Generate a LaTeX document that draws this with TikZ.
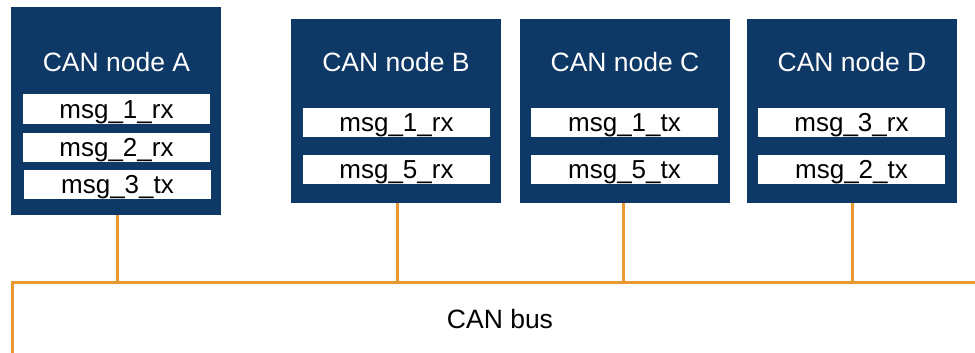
\documentclass[tikz,border=0pt]{standalone}
\usepackage{fontspec}
\setmainfont{Liberation Sans}
\definecolor{navy}{RGB}{14,56,102}
\definecolor{busorange}{RGB}{233,153,47}
\begin{document}
\begin{tikzpicture}[x=1pt,y=-1pt,
  canbox/.style={fill=navy, draw=none, anchor=north west, inner sep=0pt, minimum width=210pt},
  cantitle/.style={text=white, font=\fontsize{26.5}{31}\selectfont, inner sep=0pt, text height=19pt, text depth=0pt},
  msgbox/.style={fill=white, draw=none, inner sep=0pt, minimum width=187pt, minimum height=29pt,
    font=\fontsize{26}{31}\selectfont, text height=18.5pt, text depth=0pt},
  wire/.style={draw=busorange, line width=3pt}]
\useasboundingbox (0,0) rectangle (975,353);
% CAN nodes
\node[canbox, minimum height=208pt] (A) at (11,7) {};
\node[canbox, minimum height=184pt] (B) at (291,19) {};
\node[canbox, minimum height=184pt] (C) at (520,19) {};
\node[canbox, minimum height=184pt] (D) at (747,19) {};
\node[cantitle] (tA) at (116.5,61.5) {CAN node A};
\node[cantitle] (tB) at (396,61.5) {CAN node B};
\node[cantitle] (tC) at (625,61.5) {CAN node C};
\node[cantitle] (tD) at (852,61.5) {CAN node D};
% messages
\node[msgbox] (a1) at (116.5,109) {msg\_1\_rx};
\node[msgbox] (a2) at (116.5,147) {msg\_2\_rx};
\node[msgbox] (a3) at (117.5,184) {msg\_3\_tx};
\node[msgbox] (b1) at (396.5,122) {msg\_1\_rx};
\node[msgbox] (b2) at (396.5,169) {msg\_5\_rx};
\node[msgbox] (c1) at (624.5,122) {msg\_1\_tx};
\node[msgbox] (c2) at (624.5,169) {msg\_5\_tx};
\node[msgbox] (d1) at (851.5,122) {msg\_3\_rx};
\node[msgbox] (d2) at (851.5,169) {msg\_2\_tx};
% bus
\coordinate (busBL) at (12,356);
\coordinate (busL) at (12,282);
\coordinate (busR) at (978,282);
\draw[wire] (busBL) -- (busL) -- (busR);
\draw[wire] ([xshift=1pt]A.south) -- ([xshift=1pt]A.south |- busL);
\draw[wire] ([xshift=1pt]B.south) -- ([xshift=1pt]B.south |- busL);
\draw[wire] ([xshift=-2pt]C.south) -- ([xshift=-2pt]C.south |- busL);
\draw[wire] ([xshift=0pt]D.south) -- ([xshift=0pt]D.south |- busL);
\node[font=\fontsize{26.5}{31}\selectfont, inner sep=0pt, text height=19pt, text depth=0pt] (bus) at (500,319) {CAN bus};
\end{tikzpicture}
\end{document}
